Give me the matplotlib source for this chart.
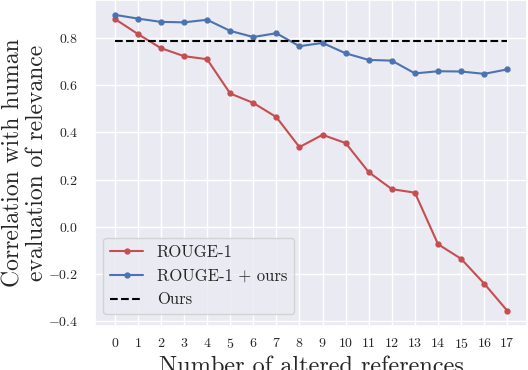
import matplotlib
matplotlib.use("Agg")
import matplotlib.pyplot as plt
import seaborn as sns

sns.set_theme(style="darkgrid")
plt.rcParams['font.family'] = ['serif']
plt.rcParams['font.serif'] = ['cmr10', 'DejaVu Serif']
plt.rcParams['mathtext.fontset'] = 'cm'
plt.rcParams['axes.formatter.use_mathtext'] = True
plt.rcParams['axes.unicode_minus'] = True

x = list(range(18))
rouge1 = [0.881, 0.817, 0.757, 0.723, 0.710, 0.565, 0.525, 0.465, 0.338, 0.390,
          0.355, 0.232, 0.160, 0.145, -0.073, -0.135, -0.240, -0.355]
rouge1_ours = [0.898, 0.882, 0.868, 0.866, 0.877, 0.830, 0.804, 0.820, 0.765, 0.779,
               0.735, 0.707, 0.704, 0.650, 0.659, 0.658, 0.648, 0.667]
ours = 0.785

fig = plt.figure(figsize=(5.28, 3.7), dpi=100)
ax = fig.add_axes([0.18, 0.12, 0.818, 0.88])
ax.plot(x, rouge1, color='#c44e52', marker='o', markersize=3.5, lw=1.5, label='ROUGE-1')
ax.plot(x, rouge1_ours, color='#4c72b0', marker='o', markersize=3.5, lw=1.5, label='ROUGE-1 + ours')
ax.plot([x[0], x[-1]], [ours, ours], color='black', ls='--', lw=1.5, label='Ours')
ax.set_xticks(x)
ax.set_xticklabels([f'${v}$' for v in x], fontsize=10)
ax.set_yticks([-0.4, -0.2, 0.0, 0.2, 0.4, 0.6, 0.8])
ax.set_yticklabels([r'$-0.4$', r'$-0.2$', r'$0.0$', r'$0.2$', r'$0.4$', r'$0.6$', r'$0.8$'], fontsize=10)
ax.tick_params(axis='y', pad=6)
ax.tick_params(axis='x', pad=2.5)
ax.set_xlabel('Number of altered references', fontsize=17.5, labelpad=3)
ax.set_ylabel('Correlation with human\nevaluation of relevance', fontsize=17, linespacing=1.1)
ax.yaxis.set_label_coords(-0.108, 0.5)
ax.legend(loc='lower left', fontsize=12, bbox_to_anchor=(0.0, 0.01))
fig.savefig('out.png', dpi=100)
